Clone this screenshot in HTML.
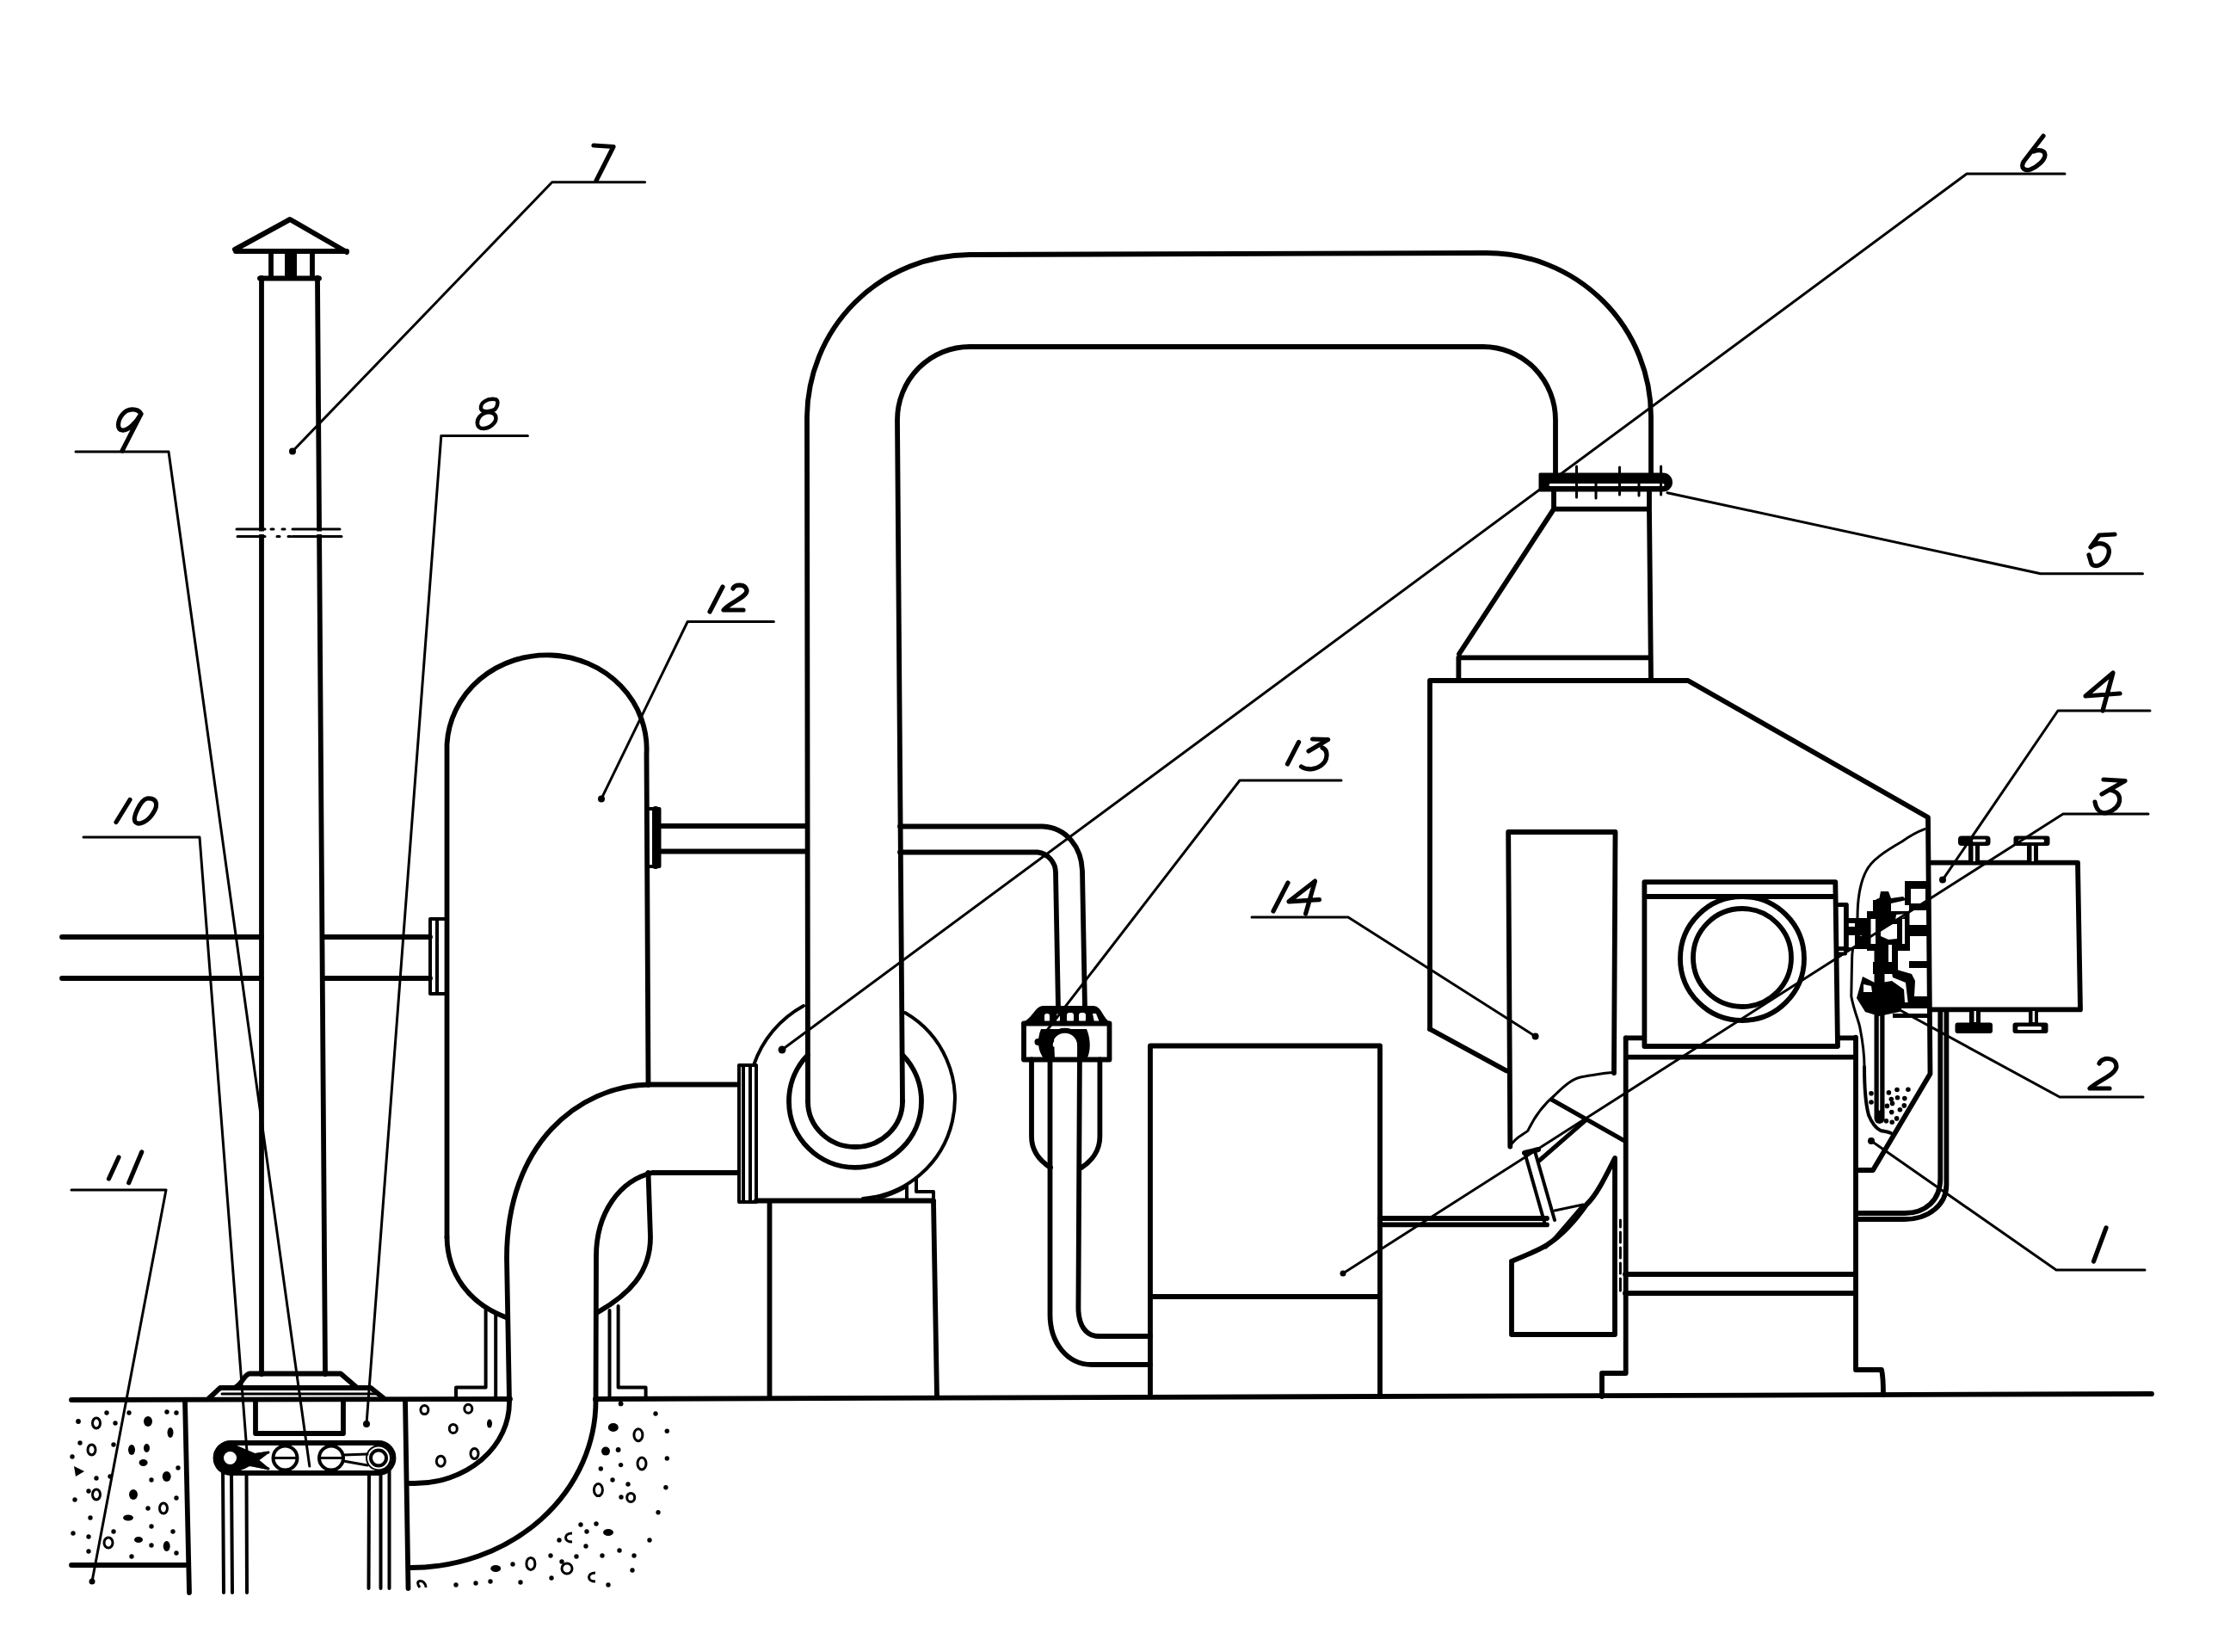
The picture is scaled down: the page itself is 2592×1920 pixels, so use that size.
<!DOCTYPE html>
<html><head><meta charset="utf-8"><style>
html,body{margin:0;padding:0;background:#fff;width:2592px;height:1920px;overflow:hidden}
svg{display:block}
</style></head><body>
<svg width="2592" height="1920" viewBox="0 0 2592 1920">
<rect width="2592" height="1920" fill="#fff"/>
<g fill="none" stroke="#000" stroke-width="5.8" stroke-linejoin="round" stroke-linecap="round">
<!-- CHIMNEY 7 -->
<path d="M273 290 L337 255 L403 293 M274 292 L403 292" stroke-width="6"/>
<path d="M315 292V323 M363 292V323"/>
<path d="M332 292h12v31h-12z" fill="#000" stroke-width="2"/>
<path d="M302 323.5H371"/>
<path d="M304 323V1597 M369 323L378 1597"/>
<path d="M275 615H308 M340 615H395 M276 623.5H308 M340 623.5H397" stroke-width="3"/>
<path d="M315 615h3 M328 615h3 M322 623.5h3 M335 623.5h3" stroke-width="3"/>
<path d="M299 617.5h10v3.5h-10z M366 617.5h12v3.5h-12z" fill="#fff" stroke="none"/>
<!-- chimney base -->
<path d="M243 1625 L256 1613 H431 L446 1625" />
<path d="M274 1612 C282 1608 284 1597 290 1596.5 H396 L414 1612"/>
<path d="M258 1620 H440" stroke-width="3"/>
<!-- GROUND -->
<path d="M83 1627 L593 1626 M692 1626 L2501 1620"/>
<!-- concrete block left -->
<path d="M83 1819 H215 M215 1627 L220 1851"/>
<!-- pit -->
<path d="M471 1627 L474.5 1846"/>
<path d="M297 1629 V1666 H399 V1629"/>
<!-- conveyor -->
<path d="M268 1677 H440 A17.5 17.5 0 0 1 440 1712 H268 A17.5 17.5 0 0 1 268 1677 Z"/>
<circle cx="268" cy="1694.5" r="9" stroke-width="4"/>
<circle cx="440" cy="1694.5" r="9" stroke-width="4"/>
<circle cx="440" cy="1694.5" r="14" stroke-width="2"/>
<circle cx="331.5" cy="1694.5" r="14" stroke-width="4"/>
<circle cx="385" cy="1694.5" r="14" stroke-width="4"/>
<path d="M317.5 1694.5 H345.5 M371 1694.5 H399" stroke-width="3"/>
<path d="M278 1694 L312 1688 M283 1700 L312 1707 M399 1691 L427 1690 M399 1698 L427 1703" stroke-width="3"/>
<path d="M252 1694 C252 1684 262 1679 270 1679 L282 1684 L296 1690 L312 1688 L300 1697 L312 1707 L290 1703 C282 1708 275 1710 268 1710 C258 1710 252 1703 252 1694 Z" fill="#000" stroke-width="2"/>
<circle cx="267.5" cy="1694.5" r="7.5" fill="#fff" stroke="none"/>
<path d="M259 1708 L260 1851 M269 1712 L270 1851 M286.5 1712 L287 1851 M429 1712 L428.5 1846 M442.5 1712 L442.5 1846 M452.5 1708 L452.5 1846" stroke-width="4"/>
<!-- S PIPE -->
<path d="M858 1260.5 H755 C672 1262 589 1330 589 1462 L592 1628"/>
<path d="M858 1363 H758 C720 1372 693 1410 693 1460 L692.5 1628"/>
<path d="M592 1630 A110 94 0 0 1 482 1724 H476"/>
<path d="M692.5 1628 A215 194 0 0 1 477 1822"/>
<!-- VESSEL 12 -->
<path d="M519.5 1438 V865 A116 109 0 0 1 751.5 876 L753.5 1261"/>
<path d="M753.5 1363 L756 1438 C756 1480 730 1505 695 1525"/>
<path d="M519.5 1438 C520 1480 545 1515 588 1531"/>
<path d="M500 1068 H519 V1155 H500 Z M508 1070 V1153" stroke-width="4"/>
<path d="M753.5 940 H766.5 V1007 H753.5" stroke-width="4"/>
<path d="M762 941 V1006" stroke-width="8"/>
<!-- legs -->
<path d="M564.6 1522 V1612.5 H530 V1626 M576.2 1526 V1626" stroke-width="4"/>
<path d="M708.5 1523 V1626 M718.6 1518 V1612.5 H750.6 V1625" stroke-width="4"/>
<!-- horizontal pipe left -->
<path d="M72 1089 H304 M72 1137 H304 M377 1089 H500 M377 1137 H500"/>
<!-- small pipe vessel->filter -->
<path d="M767 960 H937.5 M767 989.5 H937.5"/>
<path d="M1046 960.5 H1212 C1240 962 1257 985 1258 1012 L1261 1172"/>
<path d="M1046 990.5 H1206 C1218 992 1227 1002 1227 1014 L1230 1172"/>
<!-- BIG U PIPE -->
<path d="M939 1280 L938 484 A190 190 0 0 1 1127 296 L1728 294 A191 190 0 0 1 1919 484 L1919 550"/>
<path d="M1049 1280 L1043 488 A84 85 0 0 1 1127 403 L1724 403 A84 85 0 0 1 1808 488 L1808 550"/>
<path d="M939 1280 A55 53 0 0 0 1049 1280"/>
<!-- FAN -->
<path d="M939 1226 A77 77 0 1 0 1049 1226"/>
<path d="M934 1169 A124 124 0 0 0 876 1238" stroke-width="4"/>
<path d="M1052 1177 A116 116 0 0 1 1003 1393" stroke-width="4"/>
<path d="M1021 1393 C1032 1390 1042 1386 1051 1381" stroke-width="3"/>
<path d="M1054 1378 V1395 M1065 1369 V1385 H1085 V1396" stroke-width="4"/>
<path d="M859 1238 H879 V1397 H859 Z M864 1240 V1395 M872 1240 V1395" stroke-width="4"/>
<path d="M879 1395.5 H1085"/>
<path d="M894.5 1396 V1623 M1085 1396 L1089 1623"/>
<!-- FILTER 13 -->
<path d="M1189 1190 C1200 1187 1205 1171 1212 1171 H1271 C1279 1171 1281 1187 1290 1190 Z" fill="#000" stroke-width="4"/>
<g fill="#fff" stroke="none"><rect x="1214" y="1178" width="6" height="10" rx="2.5"/><rect x="1228" y="1178" width="4" height="10" rx="2"/><rect x="1240" y="1177" width="8" height="11" rx="3"/><rect x="1254" y="1177" width="8" height="11" rx="3"/><path d="M1270 1178 L1274 1178 L1278 1188 L1272 1188 Z"/></g>
<path d="M1210 1196 C1205 1208 1206 1222 1214 1231 L1226 1231 L1225 1206 C1230 1198 1250 1198 1254 1206 L1255 1231 L1263 1231 C1268 1222 1268 1208 1263 1196 Z" fill="#000" stroke="none"/>
<path d="M1225 1215 C1225 1204 1254 1204 1254 1215" stroke="#fff" stroke-width="3"/>
<path d="M1190 1189.5 H1289.5 V1231.5 H1190 Z"/>
<path d="M1199 1231.5 V1321 C1199 1338 1210 1350 1221 1357 M1278.4 1231.5 V1321 C1278.4 1338 1268 1350 1257 1357"/>
<path d="M1220.5 1215 L1220.5 1528 C1220.5 1560 1240 1586 1269 1586 H1337"/>
<path d="M1255 1215 L1253.4 1520 C1253.4 1540 1262 1553 1277 1553 H1337"/>
<path d="M1220.5 1215 A17 17 0 0 1 1255 1215"/>

<!-- BOX below -->
<path d="M1337 1623 V1215.5 H1604 V1623 M1338 1507 H1604"/>
<!-- SEPARATOR -->
<path d="M1662 1196 V791 H1962 L2241 950 L2243.5 1248 L2177 1360 H2159"/>
<path d="M1662 1196 L1751 1244.5"/>
<!-- neck/cone -->
<path d="M1695.4 790 V764.3 H1917 M1696 760 L1806 591.7 H1917 M1806 571 V592 M1917 571 V592 L1919 791"/>
<path d="M1790 551 H1933 A9.5 9.5 0 0 1 1933 570 H1790 Z" fill="#000" stroke-width="3"/>
<path d="M1802 563.5 H1933" stroke="#fff" stroke-width="3"/>
<path d="M1832.5 542 V578 M1855 555 V579 M1882.5 543 V575 M1905 556 V576 M1930.6 542 V575" stroke-width="3"/>
<!-- PLATE 14 -->
<path d="M1755.3 1332.5 L1753.2 967 H1877.5 L1876 1247"/>
<path d="M1755.3 1332.5 C1760 1322 1772 1318 1776 1314 C1785 1295 1795 1283 1807 1273 C1820 1260 1830 1252 1842 1251 C1855 1249 1865 1247 1876 1246.3" stroke-width="3"/>
<!-- MOTOR -->
<path d="M1911.4 1025.2 H2133.3 L2136 1216 H1911.4 Z M1911.4 1042 H2133.5"/>
<circle cx="2025" cy="1114" r="72"/>
<circle cx="2025" cy="1113" r="57"/>
<path d="M2135 1052 H2145 V1108.5 H2135" stroke-width="4"/>
<path d="M1889.7 1206.4 H1911 M2136 1206.4 H2156.5 M1892 1228.6 H2156"/>
<!-- FRAME -->
<path d="M1889.7 1206.4 V1596 H1862 V1623"/>
<path d="M2157 1205.6 V1592 H2187 C2189 1600 2189 1610 2189 1621"/>
<path d="M1889 1481 H2156 M1889 1503 H2156"/>
<path d="M1883.4 1418 V1426 M1883.4 1432 V1444 M1883.4 1450 V1462 M1883.4 1468 V1480 M1883.4 1486 V1500" stroke-width="3"/>
<!-- chute -->
<path d="M1757 1466 V1551 H1877 V1346 C1865 1370 1855 1390 1844 1400 C1830 1420 1815 1436 1798 1447 C1785 1455 1770 1460 1757 1466"/>
<path d="M1772.6 1341 L1795 1420 M1784 1338 L1807 1418" stroke-width="4"/>
<path d="M1772 1340 L1788 1336" stroke-width="6"/>
<path d="M1803.5 1278 L1887 1325.3" stroke-width="5"/>
<path d="M1789 1349 L1843.4 1301.7" stroke-width="5"/>
<path d="M1604 1416 H1798 M1604 1423.4 H1798"/>
<path d="M1807 1407 L1840 1400 M1797 1450 L1840 1400" stroke-width="3"/>
<!-- RIGHT BOX 4 -->
<path d="M2243.5 1002.7 H2415 L2418 1173.4 H2243.5"/>
<g fill="#000" stroke="none">
<rect x="2288" y="980" width="13" height="23"/><rect x="2356" y="980" width="13" height="23"/>
<rect x="2289" y="1172" width="13" height="18"/><rect x="2358" y="1172" width="11" height="18"/>
<rect x="2276" y="971.5" width="37.5" height="11.5" rx="4"/><rect x="2340.5" y="971.5" width="42" height="11.5" rx="3"/>
<rect x="2272.5" y="1188.5" width="43.5" height="12.5" rx="3"/><rect x="2339.5" y="1188.5" width="41" height="12.5" rx="3"/>
</g>
<g fill="#fff" stroke="none">
<rect x="2293.5" y="983" width="2.5" height="18"/><rect x="2361.5" y="983" width="2.5" height="18"/>
<rect x="2293" y="975.5" width="15" height="3" rx="1"/><rect x="2346" y="975.5" width="30" height="3.5" rx="1.5"/>
<rect x="2294.5" y="1175" width="2.5" height="13"/><rect x="2362.5" y="1175" width="2.5" height="13"/>
<rect x="2345" y="1193" width="28" height="4" rx="1.5"/>
</g>
<!-- tank drain pipe -->
<path d="M2255.3 1176 V1370 C2255.3 1395 2238 1410 2214 1410 H2159"/>
<path d="M2262.4 1176 V1377 C2262.4 1400 2242 1417 2214 1417 H2159"/>
<!-- hopper -->
<path d="M2167 1240 C2167 1265 2169 1285 2172 1296 C2176 1306 2182 1312 2186 1314 C2190 1315 2194 1315 2198 1317" stroke-width="4"/>
<path d="M2237 963.6 C2225 968 2215 975 2210.8 978 C2190 990 2175 1000 2169 1012.6 C2160 1030 2159 1050 2159 1067 C2156 1090 2153 1100 2152.7 1112.5 C2152 1140 2152 1150 2151.8 1158 C2155 1175 2160 1185 2161.8 1194 C2165 1210 2167 1225 2167 1240" stroke-width="3"/>
<!-- valve cluster -->
<path d="M2184.5 1050 V1300" stroke-width="12"/>
<path d="M2184.5 1180 V1290" stroke="#fff" stroke-width="1.5"/>
<g stroke="none" fill="#000">
<path d="M2170 1059 H2222 V1105 H2170 Z"/>
<path d="M2177 1046 L2184 1046 L2186 1036 L2195 1036 L2198 1044 L2212 1042 L2216 1046 L2198 1050 L2198 1061 H2177 Z"/>
<path d="M2146 1067 H2171 V1103 H2146 Z"/>
<path d="M2214 1024 H2240 V1052 H2214 Z"/>
<path d="M2219 1051 H2241 V1058 H2219 Z M2219 1075 H2241 V1088 H2219 Z M2219 1117 H2241 V1125 H2219 Z"/>
<path d="M2188 1100 H2206 V1122 H2188 Z"/>
<path d="M2177 1118 H2206 V1132 H2177 Z"/>
<path d="M2165 1135 L2181 1143 L2199 1140 L2213 1150 L2214 1165 L2208 1176 L2184 1181 L2168 1176 L2158 1160 Z"/>
<path d="M2198 1125 L2222 1132 L2226 1140 L2225 1158 L2241 1158 V1168 L2218 1168 L2215 1142 L2200 1136 Z"/>
<path d="M2205 1165 H2241 V1172 H2205 Z M2200 1178 H2241 V1183 H2200 Z"/>
</g>
<g stroke="none" fill="#fff">
<path d="M2174.5 1068 H2180 V1097 H2174.5 Z M2211 1068 H2214 V1097 H2211 Z"/>
<path d="M2186 1081 L2200 1074 L2205 1074 V1091 L2195 1092 L2186 1088 Z"/>
<path d="M2148 1073 H2156 V1077 H2148 Z M2148 1083 H2156 V1101 H2148 Z M2158 1084 L2168 1084 L2163 1088 Z"/>
<path d="M2221 1033 H2238 V1050 H2221 Z"/>
<path d="M2219.5 1058 H2239 V1075 H2219.5 Z M2220 1088 H2239 V1117 H2220 Z"/>
<path d="M2195 1098 H2199 V1118 H2195 Z"/>
<path d="M2166 1144 L2175 1146 L2176 1153 L2166 1153 Z"/>
<path d="M2231 1126 H2239 V1152 H2231 Z"/>
<path d="M2203 1070 L2213 1066 L2216 1062 L2204 1063 Z"/>
</g>
<path d="M2145 1069 H2170 M2145 1085 H2170" stroke-width="4"/>
<path d="M2136.5 1051.4 H2146.3 V1102.6 H2136.5" stroke-width="5"/>
</g>
<g fill="#000"><circle cx="2205.0" cy="1266.5" r="2.8"/><circle cx="2217.9" cy="1266.2" r="2.8"/><circle cx="2195.4" cy="1269.9" r="2.8"/><circle cx="2205.5" cy="1275.7" r="2.8"/><circle cx="2198.3" cy="1277.6" r="2.8"/><circle cx="2213.8" cy="1276.6" r="2.8"/><circle cx="2199.5" cy="1282.4" r="2.8"/><circle cx="2193.4" cy="1285.4" r="2.8"/><circle cx="2208.4" cy="1289.7" r="2.8"/><circle cx="2213.3" cy="1284.9" r="2.8"/><circle cx="2175.0" cy="1270.8" r="2.8"/><circle cx="2175.0" cy="1281.0" r="2.8"/><circle cx="2198.7" cy="1292.6" r="2.8"/><circle cx="2181.8" cy="1299.9" r="2.8"/><circle cx="2192.4" cy="1302.8" r="2.8"/><circle cx="2199.2" cy="1304.2" r="2.8"/><circle cx="2204.6" cy="1299.9" r="2.8"/></g>
<!-- LEADERS -->
<g fill="none" stroke="#000" stroke-width="3" stroke-linecap="round" stroke-linejoin="round">
<path d="M340 524.5 L641.7 211.8 H749.6"/>
<path d="M359.8 1704 L196 525 H88"/>
<path d="M426 1655 L512.8 506.6 H613.4"/>
<path d="M287 1687 L232 973 H97"/>
<path d="M107 1838 L193 1383 H83"/>
<path d="M699 928.4 L799.2 722.5 H899.4"/>
<path d="M1206.5 1211 L1441 907 H1559"/>
<path d="M1784.6 1204.4 L1567 1066 H1455"/>
<path d="M909 1220 L2286 202 H2400"/>
<path d="M1938 572.7 L2371.8 666.7 H2490.5"/>
<path d="M2258 1022.6 L2392 826 H2499"/>
<path d="M1561 1480 L2244 1044 L2398 946 H2497"/>
<path d="M2203 1171 L2394 1275 H2491"/>
<path d="M2175 1326 L2390 1476 H2493"/>
</g>
<g fill="#000">
<circle cx="340" cy="524.5" r="4"/><circle cx="426" cy="1655" r="4"/><circle cx="107" cy="1838" r="3.5"/>
<circle cx="699" cy="928.4" r="4"/><circle cx="1206.5" cy="1211" r="4"/><circle cx="1784.6" cy="1204.4" r="4"/>
<circle cx="909" cy="1220" r="4.5"/><circle cx="2258" cy="1022.6" r="4"/><circle cx="1561" cy="1480" r="3.5"/>
<circle cx="2175" cy="1326" r="4"/>
</g>
<!-- DIGITS -->
<g fill="none" stroke="#000" stroke-width="5.2" stroke-linecap="round" stroke-linejoin="round">
<path d="M690 169 L713 170.5 L693 210"/>
<path d="M2375 158 L2352 188 C2348 196 2354 199 2360 197 C2368 194 2377 186 2377 180 C2377 175 2370 173 2364 176"/>
<path d="M2458 621 L2440 622 L2430 636 C2440 628 2454 632 2451 644 C2448 656 2435 661 2431 655 L2428 645"/>
<path d="M2464 806 L2424 809 L2456 782 L2444 826"/>
<path d="M2445 906 L2470 907.5 L2443 923 M2452 918 C2466 920 2468 934 2455 942 C2447 947 2437 946 2435 932"/>
<path d="M2440 1236 C2443 1228 2460 1228 2460 1240 C2458 1250 2440 1255 2429 1265 H2452"/>
<path d="M2448 1427 L2433.5 1466"/>
<path d="M164 481 C160 474 148 474 142 482 C136 490 136 499 142 500 C148 501 158 492 164 481 L142 524"/>
<path d="M575 464 C566 463 558 468 559 475 C560 479 570 479 575 476 C579 472 580 464 575 464 Z M568 479 C558 480 554 488 555 493 C556 500 566 499 572 494 C578 489 579 480 568 479 Z" stroke-width="4.5"/>
<path d="M151 929.5 L135 955.5 M171 928 C163 930 154 950 157 955 C161 960 172 955 178 945 C184 936 183 927 171 928 Z"/>
<path d="M138 1345 L126.5 1370 M164.7 1339 L149.7 1374.7"/>
<path d="M840 682 L825 711 M852 684 C854 679 866 678 868 686 C869 694 848 700 841 709 H864"/>
<path d="M1509.6 862.5 L1496.5 888 M1525.5 859 L1543.7 859.6 L1521 873 M1537 869 C1544 872 1544 884 1535 890 C1528 895 1518 895 1512.5 891"/>
<path d="M1497 1026 L1480 1059 M1533.5 1045.6 L1498 1047.8 L1528.5 1024 L1517.6 1062"/>
</g>
<!-- CONCRETE -->
<g fill="none" stroke="#000" stroke-width="3">
<ellipse cx="112" cy="1654" rx="4.5" ry="6"/><ellipse cx="106.5" cy="1685" rx="4.5" ry="6"/>
<ellipse cx="112" cy="1737" rx="4.5" ry="6"/><ellipse cx="190" cy="1753" rx="4.5" ry="6"/>
<ellipse cx="126" cy="1793" rx="5" ry="6"/>
<ellipse cx="493.4" cy="1638.6" rx="4.5" ry="5"/><ellipse cx="544.3" cy="1637.2" rx="4.5" ry="5"/>
<ellipse cx="526.8" cy="1660.4" rx="4.5" ry="5"/><ellipse cx="512.3" cy="1698.2" rx="5" ry="6"/>
<ellipse cx="551.5" cy="1689.5" rx="4.5" ry="6"/>
<ellipse cx="741.9" cy="1667.7" rx="5" ry="7"/><ellipse cx="746" cy="1701" rx="5" ry="7"/>
<ellipse cx="695.4" cy="1731.6" rx="5" ry="7"/><ellipse cx="733.2" cy="1740.4" rx="4.5" ry="5"/>
<ellipse cx="616.9" cy="1817.4" rx="5" ry="7"/><ellipse cx="659" cy="1823" rx="6" ry="6"/>
<path d="M665 1782 C655 1782 655 1792 665 1792 M692 1828 C682 1828 682 1838 692 1838 M488 1845 C480 1835 495 1835 495 1845"/>
</g>
<g fill="#000">
<ellipse cx="172" cy="1652" rx="5" ry="6"/><ellipse cx="198" cy="1665" rx="3.5" ry="6"/>
<ellipse cx="153" cy="1685" rx="4" ry="6"/><ellipse cx="170.5" cy="1683" rx="3.5" ry="5"/>
<path d="M86 1704 L98 1710 L88 1716 Z"/><ellipse cx="166.6" cy="1700" rx="5" ry="4"/>
<ellipse cx="193.7" cy="1716" rx="5" ry="6"/><ellipse cx="155" cy="1737" rx="5" ry="6"/>
<ellipse cx="149" cy="1764" rx="6" ry="3.5"/><ellipse cx="161" cy="1789.5" rx="5" ry="3.5"/>
<ellipse cx="193.7" cy="1797" rx="4" ry="6"/><ellipse cx="569" cy="1654.6" rx="3" ry="5"/>
<ellipse cx="712.8" cy="1659" rx="6" ry="5"/><ellipse cx="704" cy="1686.6" rx="5" ry="5"/>
<ellipse cx="707" cy="1781" rx="6" ry="4"/><ellipse cx="576.2" cy="1823" rx="6" ry="4"/>
</g>
<g fill="#000">
<circle cx="91" cy="1652" r="2.9"/><circle cx="134" cy="1654" r="2.7"/><circle cx="194" cy="1641" r="2.7"/><circle cx="205" cy="1642" r="2.7"/>
<circle cx="93" cy="1677" r="2.7"/><circle cx="132" cy="1679" r="2.7"/><circle cx="112" cy="1718" r="2.7"/><circle cx="128" cy="1716" r="2.7"/>
<circle cx="176" cy="1720" r="2.7"/><circle cx="207" cy="1706" r="2.7"/><circle cx="87" cy="1743" r="2.7"/><circle cx="103" cy="1733" r="2.7"/>
<circle cx="172" cy="1753" r="2.7"/><circle cx="205" cy="1741" r="2.7"/><circle cx="105" cy="1764" r="2.7"/><circle cx="85" cy="1782" r="2.7"/>
<circle cx="103" cy="1786" r="2.7"/><circle cx="132" cy="1780" r="2.7"/><circle cx="176" cy="1774" r="2.7"/><circle cx="201" cy="1780" r="2.7"/>
<circle cx="103" cy="1803" r="2.7"/><circle cx="153" cy="1809" r="2.7"/><circle cx="176" cy="1796" r="2.7"/><circle cx="205" cy="1805" r="2.7"/>
<circle cx="84" cy="1693" r="2.7"/><circle cx="150" cy="1642" r="2.7"/><circle cx="124" cy="1642" r="2.7"/>
<circle cx="721.6" cy="1631.4" r="2.9"/><circle cx="762" cy="1643" r="2.7"/><circle cx="775.3" cy="1663.3" r="2.7"/><circle cx="718.6" cy="1685" r="2.9"/>
<circle cx="775.3" cy="1695" r="2.7"/><circle cx="698.3" cy="1707" r="2.7"/><circle cx="721.6" cy="1702.6" r="2.7"/><circle cx="712" cy="1720" r="2.7"/>
<circle cx="730" cy="1725" r="2.7"/><circle cx="722" cy="1740" r="2.7"/><circle cx="773.9" cy="1728.7" r="2.7"/><circle cx="765" cy="1757.8" r="2.7"/>
<circle cx="675" cy="1772" r="2.7"/><circle cx="682" cy="1780" r="2.7"/><circle cx="693" cy="1771" r="2.7"/><circle cx="650" cy="1790" r="2.7"/>
<circle cx="681" cy="1797" r="2.7"/><circle cx="720" cy="1802" r="2.7"/><circle cx="755" cy="1790" r="2.7"/><circle cx="640" cy="1808" r="2.7"/>
<circle cx="670" cy="1809" r="2.7"/><circle cx="700" cy="1808" r="2.7"/><circle cx="737" cy="1808" r="2.7"/><circle cx="735" cy="1825" r="2.7"/>
<circle cx="596" cy="1818" r="2.7"/><circle cx="641" cy="1834" r="2.7"/><circle cx="605" cy="1839" r="2.7"/><circle cx="553" cy="1840" r="2.7"/>
<circle cx="570" cy="1838" r="2.7"/><circle cx="530" cy="1842" r="2.7"/><circle cx="707" cy="1842" r="2.7"/><circle cx="653" cy="1815" r="2.7"/>
</g>
</svg>
</body></html>
